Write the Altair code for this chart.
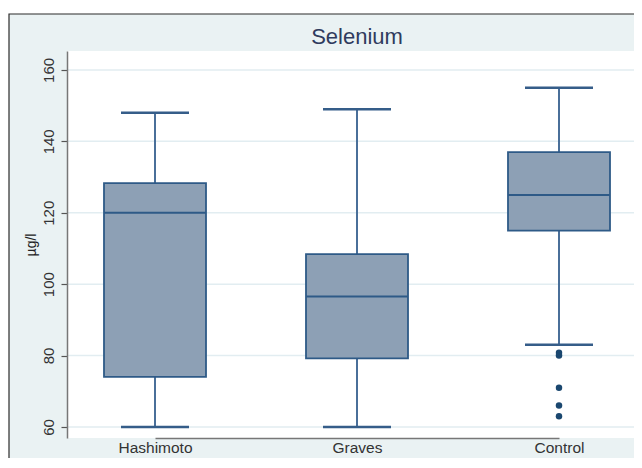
import altair as alt
import pandas as pd

# ---- data ----
groups = ["Hashimoto", "Graves", "Control"]
whisker_low = [60, 60, 83]
q1 = [74, 79.2, 115]
median = [120, 96.5, 125]
q3 = [128.3, 108.4, 137]
whisker_high = [148, 149, 155]

outlier_group = ["Control", "Control", "Control", "Control", "Control"]
outlier_value = [80.8, 80.0, 71, 66, 63]

y_ticks = [60, 80, 100, 120, 140, 160]
title_text = "Selenium"
y_title = "µg/l"

# ---- tables ----
box_df = pd.DataFrame({"group": groups, "lo": whisker_low, "q1": q1,
                       "med": median, "q3": q3, "hi": whisker_high})
out_df = pd.DataFrame({"group": outlier_group, "v": outlier_value})
grid_df = pd.DataFrame({"v": y_ticks})
one = pd.DataFrame({"k": [0]})

W, H = 567, 387
FONT = "Liberation Sans"
BOX_FILL = "#8DA0B5"
BOX_LINE = "#2E5A87"

xs = alt.Scale(type="point", domain=groups, range=[88, 492], padding=0)
xa = alt.Axis(title=None, ticks=False, labelAngle=0, labelFontSize=15.5, labelFont=FONT,
              labelColor="#333333", labelPadding=2, domainColor="#777777",
              domainWidth=1.5, zindex=1)
ys = alt.Scale(domain=[56.9, 165.3], nice=False, zero=False)
ya = alt.Axis(title=y_title, values=y_ticks, grid=False, tickSize=6, tickColor="#555555",
              tickWidth=1.2, domainColor="#777777", domainWidth=1.5,
              labelAngle=270, labelAlign="center", labelBaseline="alphabetic",
              labelPadding=8, labelFontSize=15, labelFont=FONT, labelColor="#333333",
              titleFont=FONT, titleFontSize=14, titleFontWeight="normal",
              titleColor="#222222", titleAngle=270, titleX=-32, titleY=H / 2,
              titleAlign="center", titleBaseline="alphabetic", zindex=1)


def X():
    return alt.X("group:N", scale=xs, axis=xa)


def Y(f):
    return alt.Y(f"{f}:Q", scale=ys, axis=ya)


frame = alt.Chart(one).mark_rect(fill="#EAF2F3", stroke="#2b2b2b", strokeWidth=1.2).encode(
    x=alt.value(-58), x2=alt.value(W + 60), y=alt.value(-37), y2=alt.value(H + 60))
plotbg = alt.Chart(one).mark_rect(fill="white").encode(
    x=alt.value(0), x2=alt.value(W + 60), y=alt.value(0), y2=alt.value(H))
title = alt.Chart(one).mark_text(text=title_text, font=FONT, fontSize=22, color="#2F3B5E",
                                 align="center", baseline="alphabetic").encode(
    x=alt.value(290), y=alt.value(-7.5))
grid = alt.Chart(grid_df).mark_rule(color="#E2EDF1", strokeWidth=1.5).encode(y=Y("v"))

whisk_lo = alt.Chart(box_df).mark_rule(color="#4A6F99", strokeWidth=2).encode(
    x=X(), y=Y("lo"), y2="q1")
whisk_hi = alt.Chart(box_df).mark_rule(color="#4A6F99", strokeWidth=2).encode(
    x=X(), y=Y("q3"), y2="hi")
cap_lo = alt.Chart(box_df).mark_tick(orient="horizontal", size=68, thickness=2.5,
                                     color="#355D89", opacity=1).encode(x=X(), y=Y("lo"))
cap_hi = alt.Chart(box_df).mark_tick(orient="horizontal", size=68, thickness=2.5,
                                     color="#355D89", opacity=1).encode(x=X(), y=Y("hi"))
box = alt.Chart(box_df).mark_bar(size=102, fill=BOX_FILL, stroke=BOX_LINE, strokeWidth=1.8,
                                 opacity=1).encode(x=X(), y=Y("q1"), y2="q3")
med = alt.Chart(box_df).mark_tick(orient="horizontal", size=102, thickness=2,
                                  color=BOX_LINE, opacity=1).encode(x=X(), y=Y("med"))
pts = alt.Chart(out_df).mark_circle(size=42, color="#1A476F", opacity=1).encode(
    x=X(), y=Y("v"))

chart = alt.layer(frame, plotbg, title, grid, whisk_lo, whisk_hi, cap_lo, cap_hi,
                  box, med, pts).properties(
    width=W, height=H,
    autosize=alt.AutoSizeParams(type="none"),
    padding={"left": 59, "top": 43, "right": 0, "bottom": 20},
    background="white",
).configure_view(stroke=None)

chart.save("out.html", embed_options={"renderer": "svg", "actions": False})
